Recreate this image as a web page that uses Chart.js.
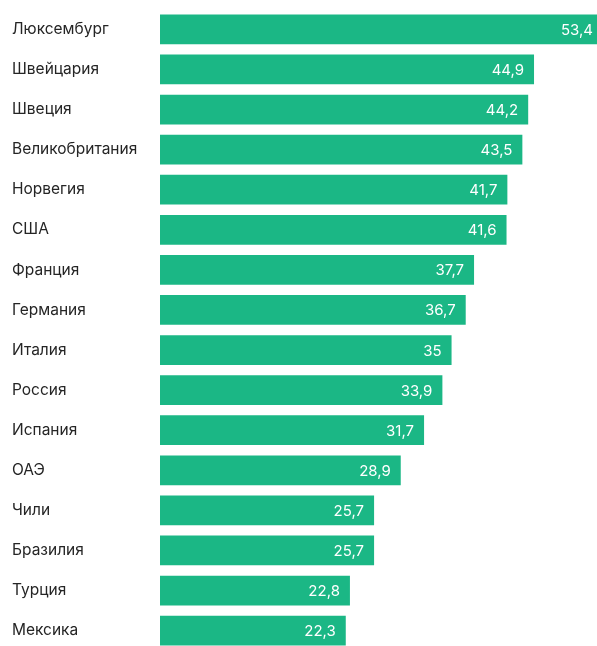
<!DOCTYPE html>
<html lang="ru">
<head>
<meta charset="utf-8">
<title>Бары по странам</title>
<script src="https://cdn.jsdelivr.net/npm/chart.js@4"></script>
<style>
    html, body { margin: 0; padding: 0; background: #fff; overflow: hidden; }
    #wrap { position: relative; width: 597px; height: 660px; }
</style>
</head>
<body>
<div id="wrap"><canvas id="barChart"></canvas></div>
<script>
// Страны и значения
const countries = [
    "Люксембург", "Швейцария", "Швеция", "Великобритания", "Норвегия", "США",
    "Франция", "Германия", "Италия", "Россия", "Испания", "ОАЭ",
    "Чили", "Бразилия", "Турция", "Мексика"
];
const values = [53.4, 44.9, 44.2, 43.5, 41.7, 41.6, 37.7, 36.7, 35, 33.9, 31.7, 28.9, 25.7, 25.7, 22.8, 22.3];

const barColor = "#1bb785";
const fontFamily = "Inter, 'Noto Sans', sans-serif";

// Подписи значений внутри конца столбца
const valueLabels = {
    id: "valueLabels",
    afterDatasetsDraw(chart) {
        const ctx = chart.ctx;
        const meta = chart.getDatasetMeta(0);
        ctx.save();
        ctx.font = "15px " + fontFamily;
        ctx.fillStyle = "#ffffff";
        ctx.textAlign = "right";
        ctx.textBaseline = "middle";
        meta.data.forEach((bar, i) => {
            const x = Math.min(bar.x, chart.chartArea.right + 6);
            ctx.fillText(String(values[i]).replace(".", ","), x - 10, bar.y + 1);
        });
        ctx.restore();
    }
};

const ctx = document.getElementById("barChart").getContext("2d");
new Chart(ctx, {
    type: "bar",
    data: {
        labels: countries,
        datasets: [{
            data: values,
            backgroundColor: barColor,
            borderWidth: 0,
            categoryPercentage: 1,
            barPercentage: 0.743
        }]
    },
    options: {
        indexAxis: "y",
        responsive: true,
        maintainAspectRatio: false,
        animation: false,
        layout: { padding: { left: 12, top: 8, bottom: 6, right: 0 } },
        plugins: {
            legend: { display: false },
            tooltip: { enabled: false }
        },
        scales: {
            x: {
                display: false,
                min: 0,
                max: 52.46
            },
            y: {
                grid: { display: false, drawTicks: false },
                border: { display: false },
                ticks: {
                    crossAlign: "far",
                    color: "#252525",
                    padding: 0,
                    font: { family: fontFamily, size: 15.5 }
                },
                afterFit(scale) { scale.width = 148; }
            }
        }
    },
    plugins: [valueLabels]
});
</script>
</body>
</html>
